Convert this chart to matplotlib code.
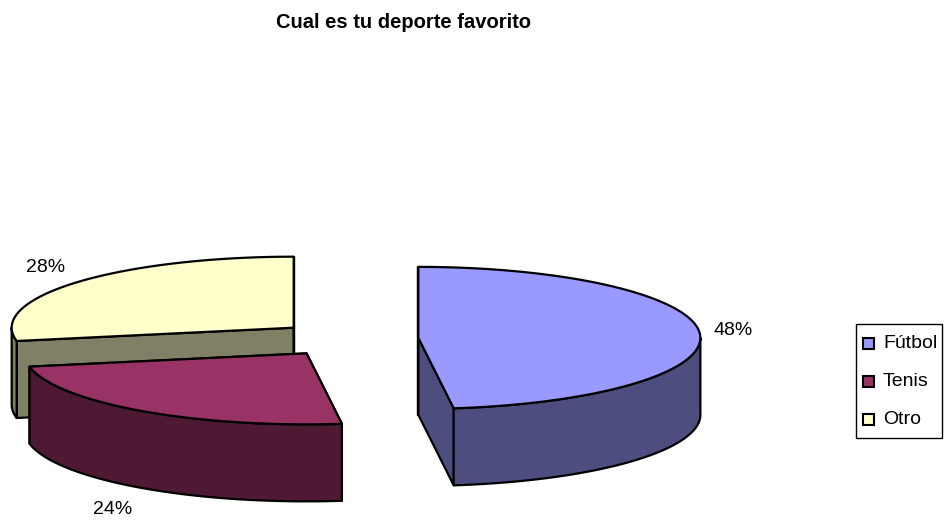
import numpy as np
import matplotlib.pyplot as plt
from matplotlib.patches import Polygon, Rectangle

plt.rcParams['font.family'] = ['Liberation Sans', 'DejaVu Sans']

# Survey results
labels = ['Fútbol', 'Tenis', 'Otro']
shares = [48, 24, 28]
top_colors = ['#9999FF', '#993366', '#FFFFCC']
side_colors = ['#4D4D80', '#4D1933', '#808066']

# 3D pie geometry (pixel units)
cx, cy = 348, 339
rx, ry = 282, 71
depth = 77
explode = 0.25

fig = plt.figure(figsize=(9.44, 5.2), dpi=100)
ax = fig.add_axes([0, 0, 1, 1])
ax.set_xlim(0, 944)
ax.set_ylim(520, 0)
ax.axis('off')


def arc(ox, oy, t0, t1, n=80):
    t = np.linspace(t0, t1, n)
    return np.column_stack([ox + rx * np.sin(t), oy - ry * np.cos(t)])


bounds = np.concatenate([[0], np.cumsum(shares)]) / sum(shares) * 2 * np.pi
slices = []
for i in range(len(shares)):
    t0, t1 = bounds[i], bounds[i + 1]
    mid = (t0 + t1) / 2
    ox = cx + explode * rx * np.sin(mid)
    oy = cy - explode * ry * np.cos(mid)
    slices.append((oy, i, t0, t1, mid, ox))

edge = dict(edgecolor='black', linewidth=1.6, joinstyle='round')

# back to front
for oy, i, t0, t1, mid, ox in sorted(slices):
    # radial cut faces
    for t in (t0, t1):
        px, py = ox + rx * np.sin(t), oy - ry * np.cos(t)
        quad = [(ox, oy), (px, py), (px, py + depth), (ox, oy + depth)]
        ax.add_patch(Polygon(quad, closed=True, facecolor=side_colors[i], **edge))
    # outer wall, only the part facing the viewer
    ta, tb = max(t0, np.pi / 2), min(t1, 3 * np.pi / 2)
    if tb > ta:
        a = arc(ox, oy, ta, tb)
        b = a[::-1] + [0, depth]
        ax.add_patch(Polygon(np.vstack([a, b]), closed=True,
                             facecolor=side_colors[i], **edge))
    # top face
    top = np.vstack([[ox, oy], arc(ox, oy, t0, t1)])
    ax.add_patch(Polygon(top, closed=True, facecolor=top_colors[i], **edge))

    # percentage label
    k = 1.05
    s, c = np.sin(mid), np.cos(mid)
    lx = ox + k * rx * s
    ly = oy - k * ry * c
    ha = 'left' if s > 0 else 'right'
    if c > 0.3:
        va, ly = 'bottom', ly - 4
    elif c < -0.3:
        va, ly = 'top', ly + depth + 10
    else:
        va, ly = 'center', ly - 3
    ax.text(lx, ly, f'{shares[i]}%', ha=ha, va=va, fontsize=14)

ax.text(403, 28, 'Cual es tu deporte favorito', ha='center', va='baseline',
        fontsize=14.5, fontweight='bold')

# legend
ax.add_patch(Rectangle((856, 324), 86, 114, facecolor='white',
                       edgecolor='black', linewidth=1.0))
for j, name in enumerate(labels):
    row_y = 343 + j * 38
    ax.add_patch(Rectangle((863, row_y - 5), 11, 11, facecolor=top_colors[j],
                           edgecolor='black', linewidth=1.5))
    ax.text(883, row_y, name, ha='left', va='center', fontsize=14)

fig.savefig('out.png', dpi=100)
